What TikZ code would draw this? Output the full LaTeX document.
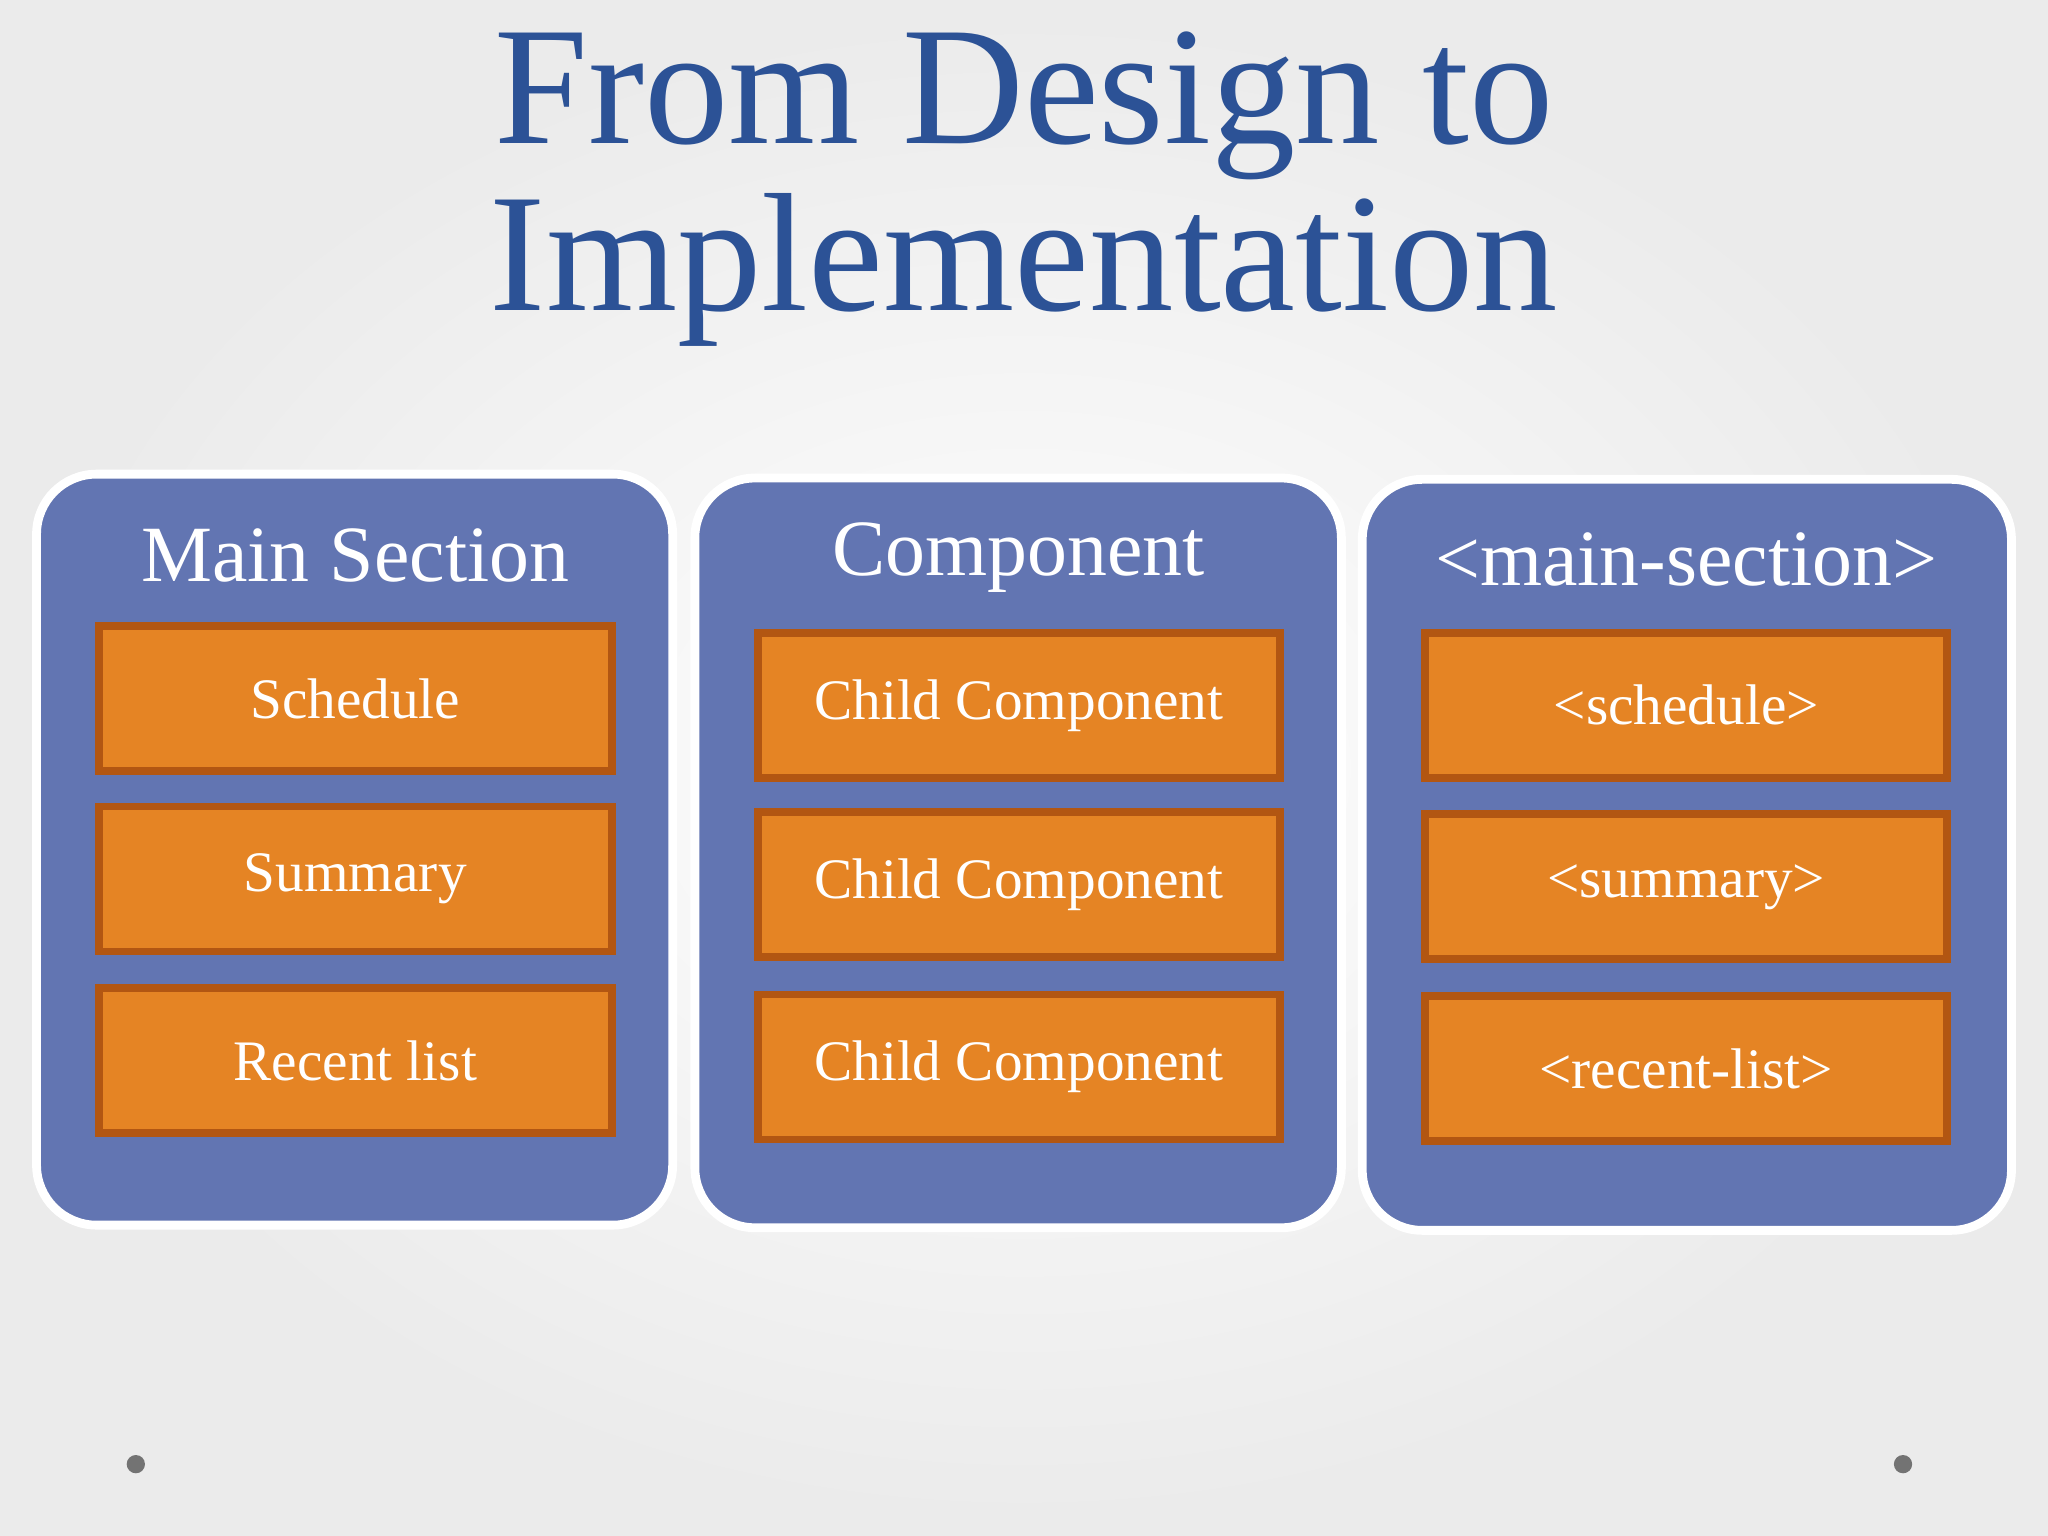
\documentclass[tikz,border=0pt]{standalone}
\usepackage{fontspec}
\setmainfont{Liberation Serif}
\usetikzlibrary{positioning}
\definecolor{titleblue}{RGB}{44,82,150}
\definecolor{panelblue}{RGB}{98,117,178}
\definecolor{boxorange}{RGB}{229,132,36}
\definecolor{boxedge}{RGB}{178,86,18}
\tikzset{
  panel/.style={draw=white,line width=2.5pt,fill=panelblue,rounded corners=0.6cm},
  head/.style={text=white,font=\fontsize{22.7}{27}\selectfont},
  part/.style={draw=boxedge,line width=2.2pt,fill=boxorange,text=white,font=\fontsize{16.3}{20}\selectfont},
  titleline/.style={text=titleblue,font=\fontsize{48}{56}\selectfont,anchor=base}
}
\begin{document}
\begin{tikzpicture}[x=0.013061cm,y=-0.013061cm]
            % background
            \useasboundingbox (0,0) rectangle (1568,1176);
            \shade[inner color=white,outer color=black!8] (0,0) rectangle (1568,1176);
            % title
            \node[titleline] (title1) at (784,110) {From Design to};
            \node[titleline] (title2) at (784,238) {Implementation};
            % panels
            \draw[panel] (28,363) rectangle (515,938);
            \draw[panel] (532,366) rectangle (1027,940);
            \draw[panel] (1043,367) rectangle (1540,942);
            \node[head] (h1) at (272,425) {Main Section};
            \node[head] (h2) at (780,427) {Component};
            \node[head] (h3) at (1291,428) {<main-section>};
            % boxes
            \node[part,minimum width=5.13cm,minimum height=1.45cm] (s1) at (272,535) {Schedule};
            \node[part,minimum width=5.13cm,minimum height=1.45cm] (s2) at (272,673) {Summary};
            \node[part,minimum width=5.13cm,minimum height=1.45cm] (s3) at (272,812) {Recent list};
            \node[part,minimum width=5.22cm,minimum height=1.45cm] (c1) at (780,540) {Child Component};
            \node[part,minimum width=5.22cm,minimum height=1.45cm] (c2) at (780,677) {Child Component};
            \node[part,minimum width=5.22cm,minimum height=1.45cm] (c3) at (780,817) {Child Component};
            \node[part,minimum width=5.22cm,minimum height=1.45cm] (t1) at (1291,540) {<schedule>};
            \node[part,minimum width=5.22cm,minimum height=1.45cm] (t2) at (1291,679) {<summary>};
            \node[part,minimum width=5.22cm,minimum height=1.45cm] (t3) at (1291,818) {<recent-list>};
            % dots
            \fill[black!55] (104,1121) circle (7);
            \fill[black!55] (1457,1121) circle (7);
\end{tikzpicture}
\end{document}
